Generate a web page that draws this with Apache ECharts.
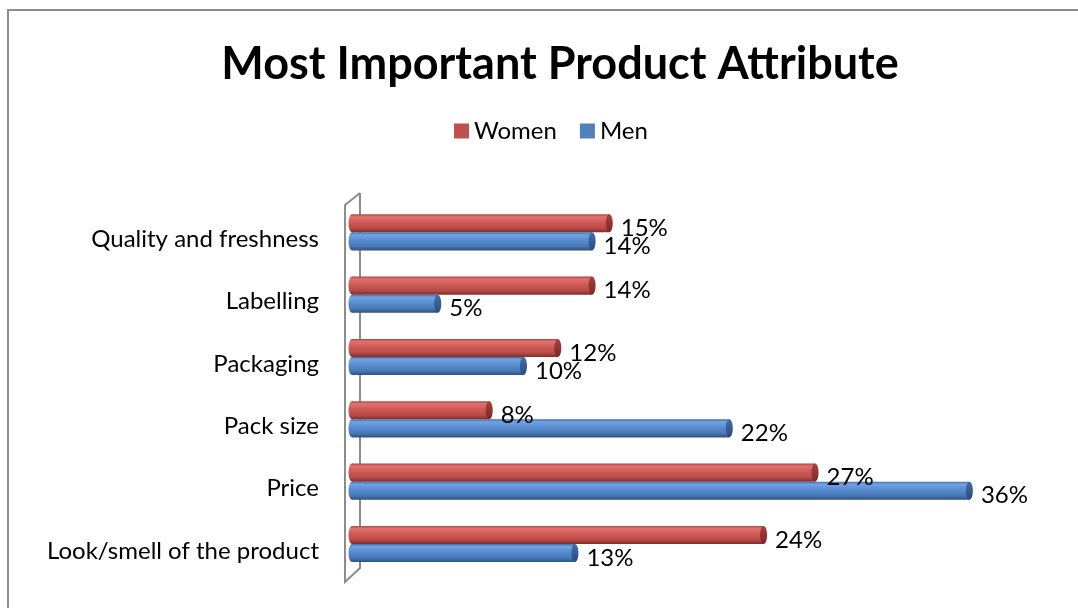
<!DOCTYPE html>
<html>
<head>
<meta charset="utf-8">
<script src="https://cdn.jsdelivr.net/npm/echarts@6/dist/echarts.min.js"></script>
<style>
  html, body { margin: 0; padding: 0; background: #fff; }
  #chart { width: 1078px; height: 608px; }
</style>
</head>
<body>
<div id="chart"></div>
<script>
// Categories listed bottom to top (category axis draws the first at the bottom)
const categories = [
  'Look/smell of the product',
  'Price',
  'Pack size',
  'Packaging',
  'Labelling',
  'Quality and freshness'
];
const women = [24, 27, 8, 12, 14, 15];
const men = [13, 36, 22, 10, 5, 14];

const FONT = 'Lato, "Open Sans", sans-serif';
const GRID = { left: 352, top: 208, right: 40, height: 374 };

// Cylinder-style shading for each series: body gradient (top to bottom) and end cap
const palette = {
  Women: {
    base: '#c0504d',
    body: ['#a94441', '#e2736f', '#d05b57', '#b84a46', '#7d2d2a'],
    cap: ['#a8403d', '#7a2a28']
  },
  Men: {
    base: '#4f81bd',
    body: ['#3f6ca5', '#72a2e2', '#5a8ed2', '#4877b4', '#2d5081'],
    cap: ['#406fa8', '#2a4c7c']
  }
};

function gradient(colors) {
  const stops = [0, 0.14, 0.42, 0.78, 1];
  return new echarts.graphic.LinearGradient(0, 0, 0, 1,
    colors.map((c, i) => ({ offset: stops[i], color: c })));
}

function cylinderRenderer(name, upper) {
  const pal = palette[name];
  return function (params, api) {
    const cat = api.value(0);
    const val = api.value(1);
    const start = api.coord([0, cat]);
    const end = api.coord([val, cat]);
    const band = api.size([0, 1])[1];
    const h = band * 0.29;
    // bars sit slightly above the band centre, as seen on the 3D floor
    const mid = start[1] - band * 0.11;
    const top = upper ? mid - h : mid;
    const cy = top + h / 2;
    const rx = 3.5;
    return {
      type: 'group',
      children: [
        {
          type: 'rect',
          shape: { x: start[0], y: top, width: end[0] - start[0], height: h },
          style: { fill: gradient(pal.body) }
        },
        {
          type: 'ellipse',
          shape: { cx: start[0], cy: cy, rx: rx, ry: h / 2 },
          style: { fill: gradient(pal.body) }
        },
        {
          type: 'ellipse',
          shape: { cx: end[0], cy: cy, rx: rx, ry: h / 2 },
          style: { fill: new echarts.graphic.LinearGradient(0, 0, 0, 1, [
            { offset: 0, color: pal.cap[0] }, { offset: 1, color: pal.cap[1] }
          ]) }
        },
        {
          type: 'text',
          style: {
            text: val + '%',
            x: end[0] + rx + 8,
            y: cy + 5,
            verticalAlign: 'middle',
            align: 'left',
            fill: '#000',
            font: '24px ' + FONT
          },
          z2: 10
        }
      ]
    };
  };
}

const chart = echarts.init(document.getElementById('chart'), null, { renderer: 'canvas' });

const wallX = GRID.left - 7;
const wallDepth = 15;
const gridBottom = GRID.top + GRID.height;

chart.setOption({
  animation: false,
  backgroundColor: '#fff',
  title: {
    text: 'Most Important Product Attribute',
    left: 560,
    top: 42,
    padding: 0,
    textAlign: 'center',
    textStyle: { fontFamily: FONT, fontWeight: 'bold', fontSize: 45, color: '#000' }
  },
  legend: {
    left: 454,
    top: 119,
    padding: 0,
    itemWidth: 15,
    itemHeight: 15,
    itemGap: 23,
    icon: 'rect',
    textStyle: { fontFamily: FONT, fontSize: 24, color: '#000' },
    data: ['Women', 'Men']
  },
  grid: { left: GRID.left, top: GRID.top, right: GRID.right, height: GRID.height },
  xAxis: {
    type: 'value',
    min: 0,
    max: 40,
    show: false
  },
  yAxis: {
    type: 'category',
    data: categories,
    axisLine: { show: false },
    axisTick: { show: false },
    axisLabel: { margin: 33, fontFamily: FONT, fontSize: 24, color: '#000' }
  },
  graphic: [
    {
      type: 'rect',
      shape: { x: 8, y: 10, width: 1080, height: 620 },
      style: { fill: 'none', stroke: '#8c8c8c', lineWidth: 2 },
      z: 0
    },
    {
      type: 'polyline',
      shape: {
        points: [
          [wallX + wallDepth, GRID.top - 15],
          [wallX, GRID.top - 3],
          [wallX, gridBottom],
          [wallX + wallDepth, gridBottom - 14],
          [wallX + wallDepth, GRID.top - 15]
        ]
      },
      style: { fill: 'none', stroke: '#8c8c8c', lineWidth: 2 },
      z: 0
    }
  ],
  series: [
    {
      name: 'Women',
      type: 'custom',
      itemStyle: { color: palette.Women.base },
      encode: { x: 1, y: 0 },
      data: women.map((v, i) => [i, v]),
      renderItem: cylinderRenderer('Women', true),
      z: 3
    },
    {
      name: 'Men',
      type: 'custom',
      itemStyle: { color: palette.Men.base },
      encode: { x: 1, y: 0 },
      data: men.map((v, i) => [i, v]),
      renderItem: cylinderRenderer('Men', false),
      z: 3
    }
  ]
});
</script>
</body>
</html>
